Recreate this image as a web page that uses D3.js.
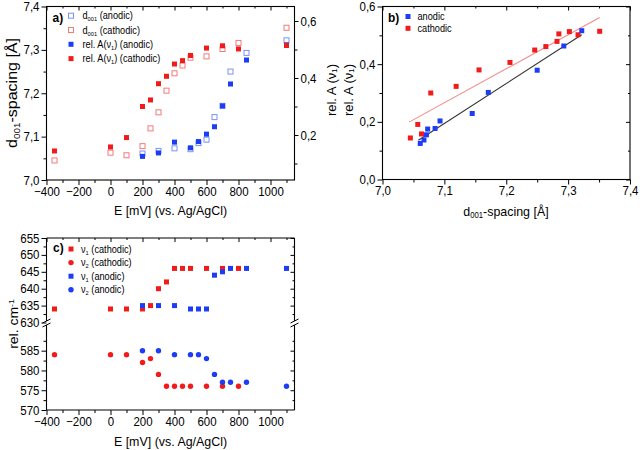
<!DOCTYPE html>
<html>
<head>
<meta charset="utf-8">
<script src="https://cdn.jsdelivr.net/npm/d3@7"></script>
<style>
  html, body { margin: 0; padding: 0; background: #fff; }
  svg { display: block; }
  text { font-family: 'Liberation Sans', Arial, Helvetica, sans-serif; fill: #000; }
</style>
</head>
<body>
<svg id="chart" width="640" height="450"></svg>
<script>
// ---------------- DATA ----------------
// Panel a / b : anodic
const E_an     = [200, 300, 400, 500, 550, 600, 650, 700, 750, 850, 1100];
const d_an     = [7.061, 7.067, 7.073, 7.071, 7.085, 7.093, 7.145, 7.171, 7.250, 7.293, 7.322];
const relA_an  = [0.125, 0.137, 0.175, 0.155, 0.177, 0.203, 0.229, 0.302, 0.379, 0.463, 0.516];
// Panel a / b : cathodic
const E_cat    = [-350, 0, 100, 200, 250, 300, 350, 400, 450, 500, 600, 700, 800, 1100];
const d_cat    = [7.045, 7.063, 7.057, 7.078, 7.119, 7.156, 7.206, 7.246, 7.264, 7.282, 7.285, 7.302, 7.316, 7.351];
const relA_cat = [0.144, 0.158, 0.191, 0.300, 0.323, 0.380, 0.406, 0.449, 0.461, 0.479, 0.505, 0.513, 0.502, 0.514];
// Panel b : linear fits (end points)
const fitAn_x  = [7.058, 7.322];
const fitAn_y  = [0.136, 0.502];
const fitCat_x = [7.043, 7.351];
const fitCat_y = [0.199, 0.562];
// Panel c : band positions
const Ec_cat   = [-350, 0, 100, 200, 250, 300, 350, 400, 450, 500, 600, 700, 800];
const nu1_cat  = [634, 634, 634, 634, 635, 640, 642, 646, 646, 646, 646, 646, 646];
const nu2_cat  = [584, 584, 584, 582, 583, 579, 576, 576, 576, 576, 576, 576, 576];
const Ec_an    = [200, 300, 400, 500, 550, 600, 650, 700, 750, 850, 1100];
const nu1_an   = [635, 635, 635, 634, 634, 634, 644, 645, 646, 646, 646];
const nu2_an   = [585, 585, 584, 584, 584, 583, 579, 577, 577, 577, 576];
// Ticks
const ticksE      = [-400, -200, 0, 200, 400, 600, 800, 1000];
const ticksEminor = [-300, -100, 100, 300, 500, 700, 900, 1100];
const ticksD      = [7.0, 7.1, 7.2, 7.3, 7.4];
const ticksDminor = [7.05, 7.15, 7.25, 7.35];
const ticksRelA   = [0.2, 0.4, 0.6];
const ticksRelAmn = [0.1, 0.3, 0.5];
const ticksRelB   = [0.0, 0.2, 0.4, 0.6];
const ticksRelBmn = [0.1, 0.3, 0.5];
const ticksCup    = [630, 635, 640, 645, 650, 655];
const ticksCupMn  = [632.5, 637.5, 642.5, 647.5, 652.5];
const ticksClo    = [570, 575, 580, 585];
const ticksCloMn  = [572.5, 577.5, 582.5, 587.5];

// ---------------- STYLE ----------------
const RED = "#f01c1c", BLUE = "#1c3cf5", PINK = "#f27a7a", LBLUE = "#7b93f2";
const FIT_RED = "#f58a8a", FIT_BLACK = "#333";
const SX = 0.92; // slight horizontal squeeze of the original lettering
const TICK_FS = 12.5, TITLE_FS = 13.5, LEG_FS = 10;
const locale = d3.formatLocale({decimal: ",", thousands: ".", grouping: [3], currency: ["", ""]});
const f1 = locale.format(".1f");
const f0 = d3.format("d");

const svg = d3.select("#chart");

// scales
const xA  = d3.scaleLinear().domain([-400, 1150]).range([46.5, 294.5]);
const yA  = d3.scaleLinear().domain([7.0, 7.4]).range([180, 6.5]);
const yA2 = d3.scaleLinear().domain([0.2, 0.6]).range([135, 21]);
const xB  = d3.scaleLinear().domain([7.0, 7.4]).range([382.5, 630]);
const yB  = d3.scaleLinear().domain([0.0, 0.6]).range([179.5, 6.5]);
const xC  = d3.scaleLinear().domain([-400, 1150]).range([46.5, 294.5]);
const yCu = d3.scaleLinear().domain([630, 655]).range([322.5, 238]);
const yCl = d3.scaleLinear().domain([570, 592]).range([410, 323]);

function styleAxis(g, size) {
  g.select(".domain").remove();
  g.selectAll(".tick line").attr("stroke", "#000").attr("stroke-width", 1);
  g.selectAll(".tick text").each(function () {
    const t = d3.select(this);
    const x = +t.attr("x") || 0;
    t.attr("x", x / SX).attr("transform", `scale(${SX},1)`)
      .attr("font-size", size).attr("fill", "#000")
      .style("font-family", "'Liberation Sans', Arial, Helvetica, sans-serif");
  });
}
function axis(gen, transform, size) {
  const g = svg.append("g").attr("transform", transform).call(gen);
  styleAxis(g, size || TICK_FS);
  return g;
}
function label(x, y, size, opts) {
  opts = opts || {};
  const g = svg.append("g").attr("transform", `translate(${x},${y}) scale(${SX},1)` + (opts.rotate ? ` rotate(${opts.rotate})` : ""));
  const t = g.append("text").attr("font-size", size).attr("text-anchor", opts.anchor || "start");
  if (opts.bold) t.attr("font-weight", "bold");
  (opts.parts || [[opts.text]]).forEach(p => {
    const ts = t.append("tspan").text(p[0]);
    if (p[1] === "sub") ts.attr("font-size", size * 0.62).attr("baseline-shift", "-25%");
    if (p[1] === "sup") ts.attr("font-size", size * 0.62).attr("baseline-shift", "45%");
  });
  return t;
}
function frame(x0, y0, x1, y1) {
  svg.append("rect").attr("x", x0).attr("y", y0).attr("width", x1 - x0).attr("height", y1 - y0)
    .attr("fill", "none").attr("stroke", "#000").attr("stroke-width", 1.1);
}
function squares(data, xs, ys, color, open, size) {
  const s = size || 5;
  svg.append("g").selectAll("rect").data(data).join("rect")
    .attr("x", d => xs(d[0]) - s / 2).attr("y", d => ys(d[1]) - s / 2)
    .attr("width", s).attr("height", s)
    .attr("fill", open ? "none" : color)
    .attr("stroke", open ? color : "none").attr("stroke-width", open ? 1 : 0);
}
function circles(data, xs, ys, color, r) {
  svg.append("g").selectAll("circle").data(data).join("circle")
    .attr("cx", d => xs(d[0])).attr("cy", d => ys(d[1])).attr("r", r || 2.7)
    .attr("fill", color);
}
const zip = (a, b) => a.map((v, i) => [v, b[i]]);

function legend(items, mx, tx, y0, dy, fs) {
  items.forEach((it, i) => {
    const y = y0 + i * dy;
    if (it.kind === "circle") {
      svg.append("circle").attr("cx", mx).attr("cy", y).attr("r", 2.7).attr("fill", it.color);
    } else {
      svg.append("rect").attr("x", mx - 2.5).attr("y", y - 2.5).attr("width", 5).attr("height", 5)
        .attr("fill", it.kind === "open" ? "none" : it.color)
        .attr("stroke", it.kind === "open" ? it.color : "none");
    }
    label(tx, y + 3.5, fs, {parts: it.parts});
  });
}

// =============== PANEL A ===============
frame(46.5, 6.5, 294.5, 180);
axis(d3.axisBottom(xA).tickValues(ticksE).tickSize(5).tickPadding(2).tickFormat(f0), "translate(0,180)");
axis(d3.axisBottom(xA).tickValues(ticksEminor).tickSize(3).tickFormat(""), "translate(0,180)");
axis(d3.axisTop(xA).tickValues(ticksE).tickSize(-4).tickFormat(""), "translate(0,6.5)");
axis(d3.axisTop(xA).tickValues(ticksEminor).tickSize(-2).tickFormat(""), "translate(0,6.5)");
axis(d3.axisLeft(yA).tickValues(ticksD).tickSize(5).tickPadding(2).tickFormat(f1), "translate(46.5,0)");
axis(d3.axisLeft(yA).tickValues(ticksDminor).tickSize(3).tickFormat(""), "translate(46.5,0)");
axis(d3.axisRight(yA2).tickValues(ticksRelA).tickSize(4).tickPadding(2).tickFormat(f1), "translate(294.5,0)");
axis(d3.axisRight(yA2).tickValues(ticksRelAmn).tickSize(3).tickFormat(""), "translate(294.5,0)");

squares(zip(E_an, d_an), xA, yA, LBLUE, true, 5);
squares(zip(E_cat, d_cat), xA, yA, PINK, true, 5);
squares(zip(E_an, relA_an), xA, yA2, BLUE, false, 5);
squares(zip(E_cat, relA_cat), xA, yA2, RED, false, 5);

label(170.5, 214.5, TITLE_FS, {anchor: "middle", text: "E [mV] (vs. Ag/AgCl)"});
label(17, 93, 16, {anchor: "middle", rotate: -90, parts: [["d"], ["001", "sub"], ["-spacing [Å]"]]});
label(335.5, 90, 13, {anchor: "middle", rotate: -90, parts: [["rel. A (ν"], ["1", "sub"], [")"]]});

label(52.5, 21.5, 13, {bold: true, text: "a)"});
legend([
  {kind: "open", color: LBLUE, parts: [["d"], ["001", "sub"], [" (anodic)"]]},
  {kind: "open", color: PINK, parts: [["d"], ["001", "sub"], [" (cathodic)"]]},
  {kind: "fill", color: BLUE, parts: [["rel. A(ν"], ["1", "sub"], [") (anodic)"]]},
  {kind: "fill", color: RED, parts: [["rel. A(ν"], ["1", "sub"], [") (cathodic)"]]}
], 71, 82.5, 15.7, 14.3, LEG_FS);

// =============== PANEL B ===============
frame(382.5, 6.5, 630, 179.5);
axis(d3.axisBottom(xB).tickValues(ticksD).tickSize(5).tickPadding(2).tickFormat(f1), "translate(0,179.5)");
axis(d3.axisBottom(xB).tickValues(ticksDminor).tickSize(3).tickFormat(""), "translate(0,179.5)");
axis(d3.axisTop(xB).tickValues(ticksD).tickSize(-4).tickFormat(""), "translate(0,6.5)");
axis(d3.axisTop(xB).tickValues(ticksDminor).tickSize(-2).tickFormat(""), "translate(0,6.5)");
axis(d3.axisLeft(yB).tickValues(ticksRelB).tickSize(5).tickPadding(2).tickFormat(f1), "translate(382.5,0)");
axis(d3.axisLeft(yB).tickValues(ticksRelBmn).tickSize(3).tickFormat(""), "translate(382.5,0)");
axis(d3.axisRight(yB).tickValues(ticksRelB).tickSize(-4).tickFormat(""), "translate(630,0)");
axis(d3.axisRight(yB).tickValues(ticksRelBmn).tickSize(-2).tickFormat(""), "translate(630,0)");

const line = d3.line().x(d => xB(d[0])).y(d => yB(d[1]));
svg.append("path").attr("d", line(zip(fitCat_x, fitCat_y))).attr("stroke", FIT_RED).attr("stroke-width", 1.1).attr("fill", "none");
svg.append("path").attr("d", line(zip(fitAn_x, fitAn_y))).attr("stroke", FIT_BLACK).attr("stroke-width", 1.1).attr("fill", "none");
squares(zip(d_cat, relA_cat), xB, yB, RED, false, 5);
squares(zip(d_an, relA_an), xB, yB, BLUE, false, 5);

label(506, 216, TITLE_FS, {anchor: "middle", parts: [["d"], ["001", "sub"], ["-spacing [Å]"]]});
label(352.5, 90, 13, {anchor: "middle", rotate: -90, parts: [["rel. A (ν"], ["1", "sub"], [")"]]});
label(388, 21.5, 13, {bold: true, text: "b)"});
legend([
  {kind: "fill", color: BLUE, parts: [["anodic"]]},
  {kind: "fill", color: RED, parts: [["cathodic"]]}
], 408, 417.5, 16.5, 11.8, LEG_FS);

// =============== PANEL C ===============
const cTop = 238, cBot = 410, cL = 46.5, cR = 294.5, brk = 323;
svg.append("line").attr("x1", cL).attr("x2", cR).attr("y1", cTop).attr("y2", cTop).attr("stroke", "#000").attr("stroke-width", 1.1);
svg.append("line").attr("x1", cL).attr("x2", cR).attr("y1", cBot).attr("y2", cBot).attr("stroke", "#000").attr("stroke-width", 1.1);
[cL, cR].forEach(x => {
  svg.append("line").attr("x1", x).attr("x2", x).attr("y1", cTop).attr("y2", brk - 2).attr("stroke", "#000").attr("stroke-width", 1.1);
  svg.append("line").attr("x1", x).attr("x2", x).attr("y1", brk + 2).attr("y2", cBot).attr("stroke", "#000").attr("stroke-width", 1.1);
  [-2, 2].forEach(o => {
    svg.append("line").attr("x1", x - 4).attr("x2", x + 4).attr("y1", brk + o + 2).attr("y2", brk + o - 2)
      .attr("stroke", "#000").attr("stroke-width", 1);
  });
});
axis(d3.axisBottom(xC).tickValues(ticksE).tickSize(5).tickPadding(2).tickFormat(f0), `translate(0,${cBot})`);
axis(d3.axisBottom(xC).tickValues(ticksEminor).tickSize(3).tickFormat(""), `translate(0,${cBot})`);
axis(d3.axisTop(xC).tickValues(ticksE).tickSize(-4).tickFormat(""), `translate(0,${cTop})`);
axis(d3.axisTop(xC).tickValues(ticksEminor).tickSize(-2).tickFormat(""), `translate(0,${cTop})`);
axis(d3.axisLeft(yCu).tickValues(ticksCup).tickSize(5).tickPadding(2).tickFormat(f0), `translate(${cL},0)`);
axis(d3.axisLeft(yCu).tickValues(ticksCupMn).tickSize(3).tickFormat(""), `translate(${cL},0)`);
axis(d3.axisLeft(yCl).tickValues(ticksClo).tickSize(5).tickPadding(2).tickFormat(f0), `translate(${cL},0)`);
axis(d3.axisLeft(yCl).tickValues(ticksCloMn).tickSize(3).tickFormat(""), `translate(${cL},0)`);
axis(d3.axisRight(yCu).tickValues(ticksCup.slice(1)).tickSize(-4).tickFormat(""), `translate(${cR},0)`);
axis(d3.axisRight(yCu).tickValues(ticksCupMn).tickSize(-2).tickFormat(""), `translate(${cR},0)`);
axis(d3.axisRight(yCl).tickValues(ticksClo.slice(1)).tickSize(-4).tickFormat(""), `translate(${cR},0)`);
axis(d3.axisRight(yCl).tickValues(ticksCloMn).tickSize(-2).tickFormat(""), `translate(${cR},0)`);

squares(zip(Ec_cat, nu1_cat), xC, yCu, RED, false, 5);
circles(zip(Ec_cat, nu2_cat), xC, yCl, RED, 2.7);
squares(zip(Ec_an, nu1_an), xC, yCu, BLUE, false, 5);
circles(zip(Ec_an, nu2_an), xC, yCl, BLUE, 2.7);

label(170.5, 446, TITLE_FS, {anchor: "middle", text: "E [mV] (vs. Ag/AgCl)"});
label(18, 324, 14, {anchor: "middle", rotate: -90, parts: [["rel. cm"], ["-1", "sup"]]});
label(53, 252, 13, {bold: true, text: "c)"});
legend([
  {kind: "fill", color: RED, parts: [["ν"], ["1", "sub"], [" (cathodic)"]]},
  {kind: "circle", color: RED, parts: [["ν"], ["2", "sub"], [" (cathodic)"]]},
  {kind: "fill", color: BLUE, parts: [["ν"], ["1", "sub"], [" (anodic)"]]},
  {kind: "circle", color: BLUE, parts: [["ν"], ["2", "sub"], [" (anodic)"]]}
], 71, 81, 249, 13.6, LEG_FS);
</script>
</body>
</html>
